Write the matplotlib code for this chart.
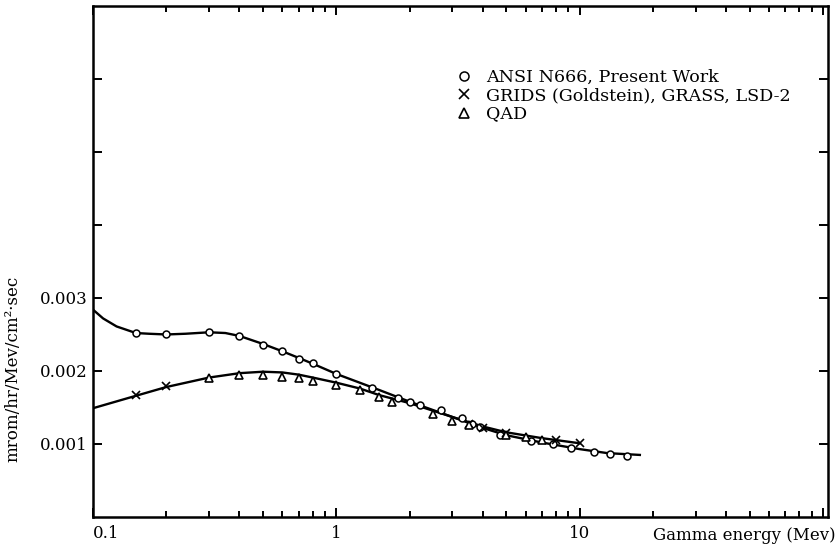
import numpy as np
import matplotlib
matplotlib.use("Agg")
import matplotlib.pyplot as plt
from matplotlib.ticker import LogLocator, NullFormatter

plt.rcParams["font.family"] = ["DejaVu Serif"]
plt.rcParams["font.size"] = 12

# values in units of 0.001 mrem/hr per Mev/cm2.sec
# ANSI N666, Present Work (circles) and its drawn curve
ansi_e = [0.15, 0.2, 0.3, 0.4, 0.5, 0.6, 0.7, 0.8, 1.0, 1.4, 1.8, 2.0, 2.2,
          2.7, 3.3, 3.6, 3.9, 4.7, 6.3, 7.8, 9.2, 11.5, 13.4, 15.6]
ansi_v = [2.52, 2.51, 2.54, 2.48, 2.36, 2.28, 2.17, 2.11, 1.96, 1.77, 1.63, 1.58, 1.54,
          1.46, 1.35, 1.28, 1.23, 1.12, 1.04, 1.00, 0.94, 0.89, 0.86, 0.83]
ansi_curve_e = [0.1, 0.11, 0.125, 0.15, 0.17, 0.2, 0.24, 0.3, 0.35, 0.4, 0.5, 0.6, 0.7,
                0.8, 1.0, 1.5, 2.0, 3.0, 4.0, 5.0, 7.0, 10.0, 13.0, 17.7]
ansi_curve_v = [2.84, 2.72, 2.61, 2.52, 2.51, 2.50, 2.51, 2.53, 2.52, 2.48, 2.37, 2.27, 2.18,
                2.10, 1.96, 1.74, 1.58, 1.37, 1.22, 1.12, 1.02, 0.93, 0.875, 0.85]

# GRIDS (Goldstein), GRASS, LSD-2 (crosses) and its drawn curve
grids_e = [0.15, 0.2, 3.5, 4.0, 5.0, 8.0, 10.0]
grids_v = [1.67, 1.79, 1.27, 1.22, 1.15, 1.06, 1.01]
grids_curve_e = [0.1, 0.15, 0.2, 0.3, 0.4, 0.5, 0.6, 0.7, 0.8, 1.0, 1.25, 1.5, 2.0,
                 3.0, 4.0, 5.0, 7.0, 10.0]
grids_curve_v = [1.49, 1.66, 1.78, 1.91, 1.97, 1.99, 1.98, 1.95, 1.91, 1.84, 1.76, 1.67, 1.56,
                 1.37, 1.24, 1.16, 1.08, 1.01]

# QAD (triangles)
qad_e = [0.3, 0.4, 0.5, 0.6, 0.7, 0.8, 1.0, 1.25, 1.5, 1.7, 2.5, 3.0, 3.5, 5.0, 6.0, 7.0]
qad_v = [1.90, 1.94, 1.94, 1.92, 1.91, 1.86, 1.81, 1.74, 1.65, 1.57, 1.41, 1.32, 1.26,
         1.12, 1.09, 1.06]

y_ticks = [0.001, 0.002, 0.003, 0.004, 0.005, 0.006]
y_labels = ["0.001", "0.002", "0.003", "", "", ""]
x_ticks = [0.1, 1, 10, 100]
x_labels = ["0.1", "1", "10", ""]

scale = 1e-3

fig = plt.figure(figsize=(8.38, 5.48), dpi=100)
ax = fig.add_axes([0.111, 0.0566, 0.877, 0.9325])

ax.plot(ansi_curve_e, np.array(ansi_curve_v) * scale, color="black", lw=1.7)
ax.plot(grids_curve_e, np.array(grids_curve_v) * scale, color="black", lw=1.7)

ax.plot(ansi_e, np.array(ansi_v) * scale, "o", ms=5, mfc="white", mec="black", mew=1.1,
        ls="none", label="ANSI N666, Present Work")
ax.plot(grids_e, np.array(grids_v) * scale, "x", ms=5.5, color="black", mew=1.2,
        ls="none", label="GRIDS (Goldstein), GRASS, LSD-2")
ax.plot(qad_e, np.array(qad_v) * scale, "^", ms=5.5, mfc="white", mec="black", mew=1.2,
        ls="none", label="QAD")

ax.set_xscale("log")
ax.set_xlim(0.1, 105)
ax.set_ylim(0, 0.007)

ax.set_xticks(x_ticks, x_labels)
ax.xaxis.set_minor_locator(LogLocator(base=10, subs=np.arange(2, 10)))
ax.xaxis.set_minor_formatter(NullFormatter())
ax.set_yticks(y_ticks, y_labels)
ax.get_xticklabels()[0].set_horizontalalignment("left")

ax.tick_params(which="both", direction="in", top=True, right=True, width=1.4)
ax.tick_params(which="major", length=6.5)
ax.tick_params(which="minor", length=4.5)
ax.tick_params(axis="x", pad=6)
ax.tick_params(axis="y", pad=4)

for sp in ax.spines.values():
    sp.set_linewidth(1.8)

ax.set_ylabel("mrom/hr/Mev/cm²·sec")
ax.yaxis.set_label_coords(-0.097, 0.29)

ax.annotate("Gamma energy (Mev)", xy=(1.01, 0), xycoords="axes fraction",
            xytext=(0, -7), textcoords="offset points", ha="right", va="top")

ax.legend(loc="upper left", bbox_to_anchor=(0.4925, 0.877), frameon=False,
          borderpad=0, handlelength=1.0, handletextpad=0.8, labelspacing=0.08,
          markerscale=1.3, borderaxespad=0, fontsize=12.6)

fig.savefig("out.png", dpi=100)
